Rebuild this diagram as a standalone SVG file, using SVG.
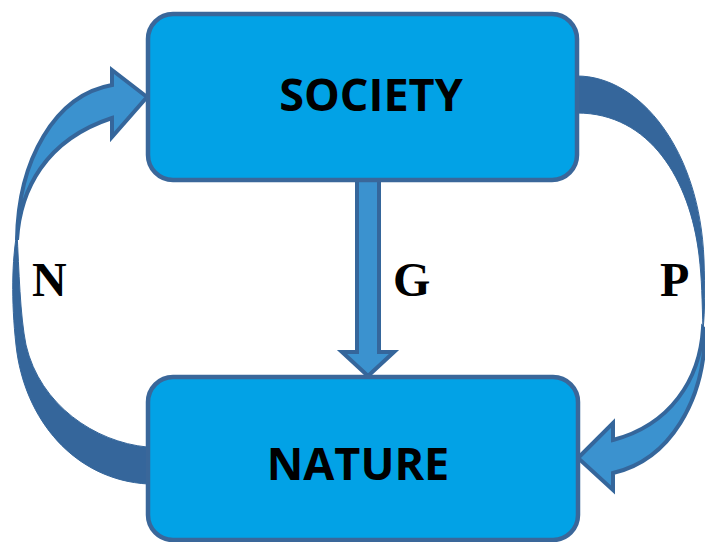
<svg xmlns="http://www.w3.org/2000/svg" width="705" height="542" viewBox="0 0 705 542">
<style>
.box{fill:#02a2e6;stroke:#3a679a;stroke-width:4.5}
.nt{font-family:"Open Sans","DejaVu Sans",sans-serif;font-weight:bold;font-size:45px;fill:#000;text-anchor:middle}
.lb{font-family:"Liberation Serif","Times New Roman",serif;font-weight:bold;font-size:48px;fill:#000}
.back{fill:#35669b;stroke:#35669b;stroke-width:1}
.front{fill:#3b92cf;stroke:#35669b;stroke-width:4;stroke-linejoin:miter}
</style>
<rect width="705" height="542" fill="#fff"/>
<g id="connectors">
  <g id="arrow-N">
    <path class="back" d="M147,447 C95,442 40,405 26,345 C20,315 19,270 17,232 C12,260 11,300 16,345 C24,420 75,480 148,484 Z"/>
    <path class="front" d="M17,240 C20,190 45,140 112,118 L112,137 L147,97 L112,70 L112,85 C55,95 18,160 17,240 Z"/>
  </g>
  <g id="arrow-P">
    <path class="back" d="M577,76 C640,76 700,150 704,260 C705,290 705,310 703,330 C702,300 702,280 699,255 C690,180 650,113 577,113 Z"/>
    <path class="front" d="M703,328 C700,380 670,425 613,440 L613,423 L578,458 L613,490 L613,473 C670,460 705,400 705,330 Z"/>
  </g>
  <g id="arrow-G">
    <path class="front" d="M357,180 L379,180 L379,352 L394,352 L368,376 L342,352 L357,352 Z"/>
  </g>
</g>
<g id="society">
  <rect class="box" x="148" y="14" width="429" height="166" rx="25"/>
  <text class="nt" x="371" y="111">SOCIETY</text>
</g>
<g id="nature">
  <rect class="box" x="148" y="377" width="430" height="163" rx="25"/>
  <text class="nt" x="358" y="480">NATURE</text>
</g>
<g id="labels">
  <text class="lb" x="32" y="296">N</text>
  <text class="lb" x="393" y="296">G</text>
  <text class="lb" x="660" y="296">P</text>
</g>
</svg>
